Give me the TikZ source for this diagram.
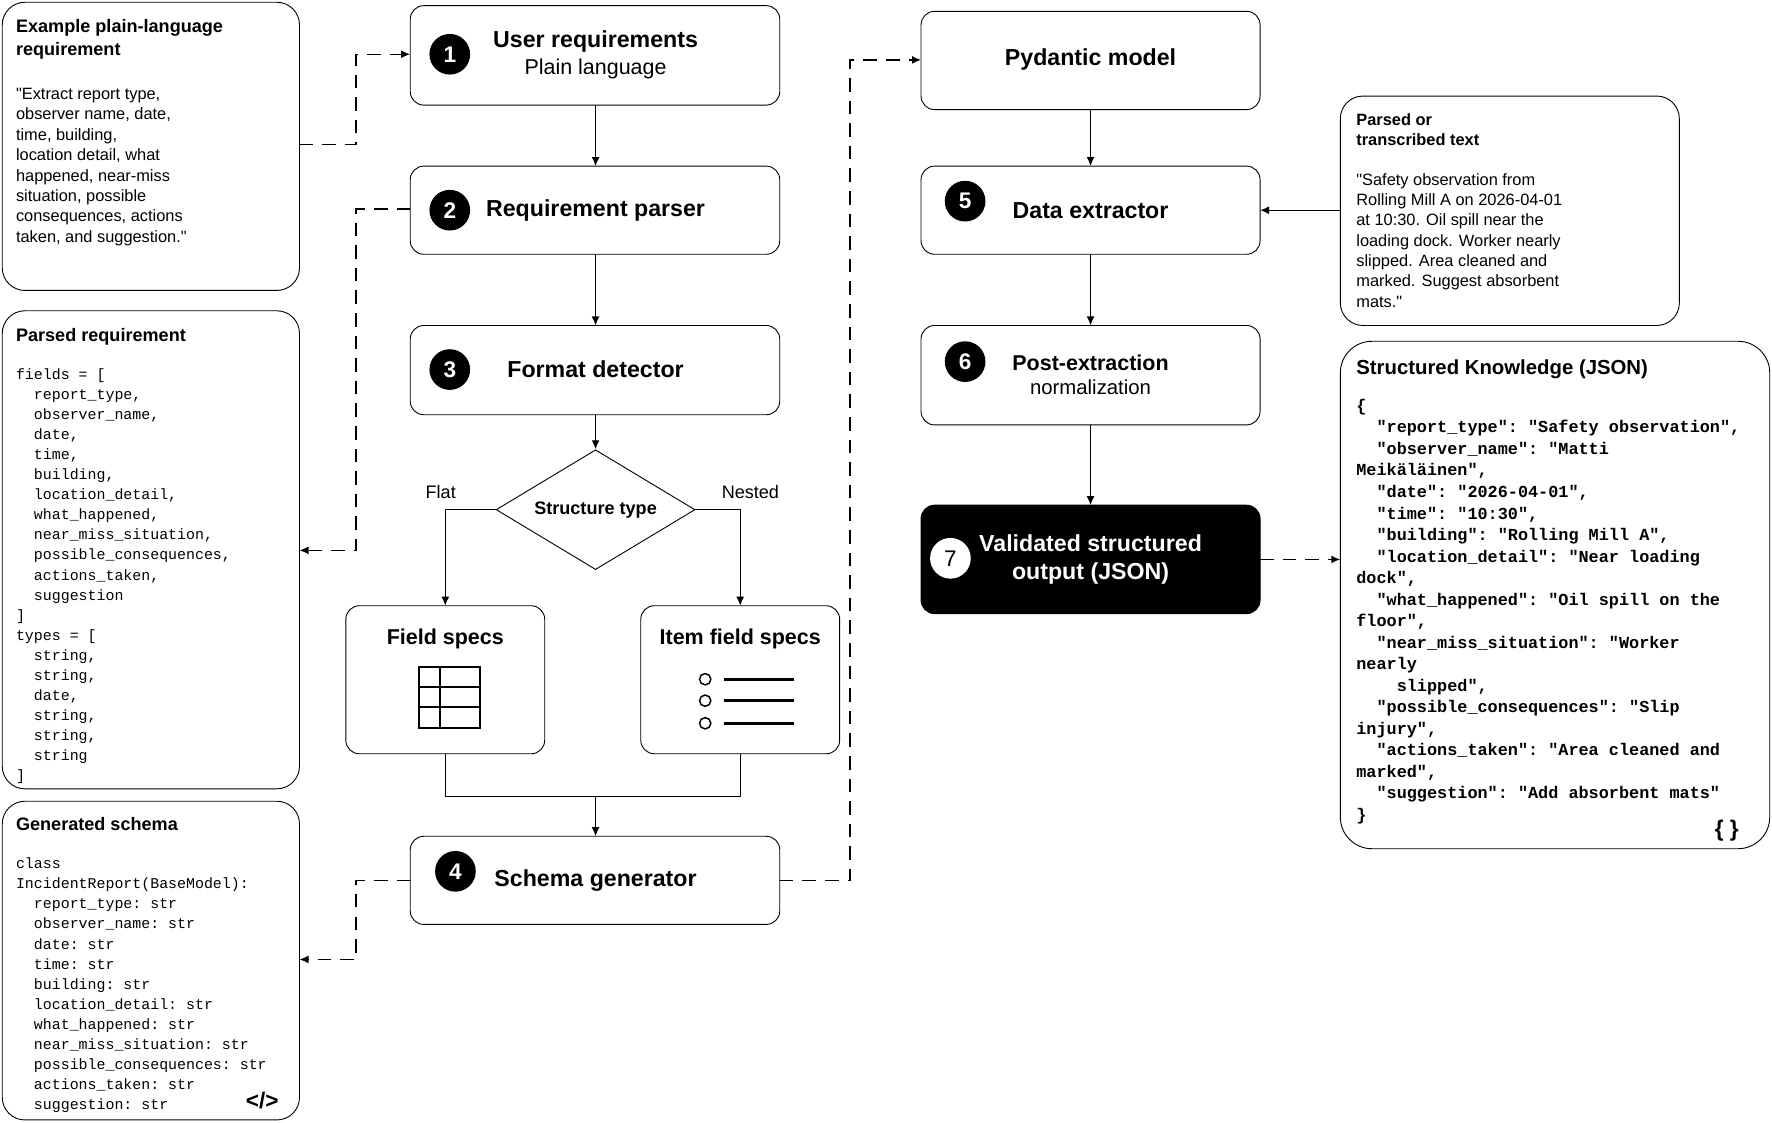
\documentclass[tikz,border=0pt]{standalone}
\usepackage{fontspec}
\setmainfont{Liberation Sans}
\setmonofont{Liberation Mono}
\usetikzlibrary{arrows.meta,shapes.geometric}
\begin{document}
\begin{tikzpicture}[x=1pt,y=-1pt,
  box/.style={draw,rounded corners=12pt,line width=0.8pt},
  sidebox/.style={draw,rounded corners=20pt,line width=0.8pt},
  ttl/.style={font=\fontsize{20.5}{24}\selectfont\bfseries,align=center},
  body/.style={font=\fontsize{14.5}{18}\selectfont,align=left,anchor=north west,inner sep=0},
  hd/.style={font=\fontsize{16}{20}\selectfont\bfseries,align=left,anchor=north west,inner sep=0},
  mono/.style={font=\ttfamily\fontsize{13.2}{17.75}\selectfont,align=left,anchor=north west,inner sep=0},
  jmono/.style={font=\ttfamily\bfseries\fontsize{14.9}{19.05}\selectfont,align=left,anchor=north west,inner sep=0},
  num/.style={circle,fill=black,text=white,minimum size=36pt,inner sep=0,font=\fontsize{20}{24}\selectfont\bfseries},
  arr/.style={-{Latex[length=8pt,width=7pt]},line width=1.2pt},
  darr/.style={-{Latex[length=8pt,width=7pt]},line width=1.2pt,dash pattern=on 12pt off 8pt}]
\useasboundingbox (0,0) rectangle (1568,993);
\def\q{\textquotedbl}
% left boxes
\draw[sidebox] (2,2) rectangle (265,257);
\node[hd] (exh) at (14,17) {Example plain-language\\requirement};
\node[body] (ext) at (14,78) {\q Extract report type,\\observer name, date,\\time, building,\\location detail, what\\happened, near-miss\\situation, possible\\consequences, actions\\taken, and suggestion.\q};
\coordinate (exR) at (265,128);
\draw[sidebox] (2,275) rectangle (265,698);
\node[hd] (prh) at (14,290) {Parsed requirement};
\node[mono] (prt) at (14,326) {fields = [\\\ \ report\_type,\\\ \ observer\_name,\\\ \ date,\\\ \ time,\\\ \ building,\\\ \ location\_detail,\\\ \ what\_happened,\\\ \ near\_miss\_situation,\\\ \ possible\_consequences,\\\ \ actions\_taken,\\\ \ suggestion\\]\\types = [\\\ \ string,\\\ \ string,\\\ \ date,\\\ \ string,\\\ \ string,\\\ \ string\\]};
\coordinate (prR) at (265,487);
\draw[sidebox] (2,709) rectangle (265,991);
\node[hd] (gsh) at (14,723) {Generated schema};
\node[mono] (gst) at (14,759) {class\\IncidentReport(BaseModel):\\\ \ report\_type: str\\\ \ observer\_name: str\\\ \ date: str\\\ \ time: str\\\ \ building: str\\\ \ location\_detail: str\\\ \ what\_happened: str\\\ \ near\_miss\_situation: str\\\ \ possible\_consequences: str\\\ \ actions\_taken: str\\\ \ suggestion: str};
\node[font=\fontsize{20}{24}\selectfont\bfseries] (code) at (232,974) {</>};
\coordinate (gsR) at (265,849);
% middle column
\draw[box] (363,5) rectangle (690,93);
\node[font=\fontsize{20.5}{24}\selectfont\bfseries] (b1t) at (527,37) {User requirements};
\node[font=\fontsize{19}{22}\selectfont] (b1s) at (527,61) {Plain language};
\node[num] (n1) at (398,48) {1};
\draw[box] (363,147) rectangle (690,225);
\node[ttl] (b2t) at (527,186) {Requirement parser};
\node[num] (n2) at (398,186) {2};
\draw[box] (363,288) rectangle (690,367);
\node[ttl] (b3t) at (527,327) {Format detector};
\node[num] (n3) at (398,327) {3};
\node[draw,diamond,aspect=1.66,minimum width=176pt,minimum height=106pt,inner sep=0,line width=0.8pt] (dia) at (527,451) {};
\node[font=\fontsize{16}{20}\selectfont\bfseries] at (527,451) {Structure type};
\node[font=\fontsize{16}{20}\selectfont] (flat) at (390,435) {Flat};
\node[font=\fontsize{16}{20}\selectfont] (nest) at (664,435) {Nested};
\draw[box] (306,536) rectangle (482,667);
\node[font=\fontsize{19}{22}\selectfont\bfseries] (fs) at (394,565) {Field specs};
\draw[line width=1.8pt] (371,590) rectangle (425,644);
\foreach \k in {608,626}{\draw[line width=1.8pt] (\k-237,590)--(\k-237,644); \draw[line width=1.8pt] (371,\k)--(425,\k);}
\draw[box] (567,536) rectangle (743,667);
\node[font=\fontsize{19}{22}\selectfont\bfseries] (ifs) at (655,565) {Item field specs};
\foreach \yy in {601,620,640}{\draw[line width=1.3pt] (624,\yy) circle (5pt); \draw[line width=2.5pt] (641,\yy)--(703,\yy);}
\draw[box] (363,740) rectangle (690,818);
\node[ttl] (b4t) at (527,779) {Schema generator};
\node[num] (n4) at (403,771) {4};
% right column
\draw[box] (815,10) rectangle (1115,97);
\node[ttl] (pyd) at (965,53) {Pydantic model};
\draw[box] (815,147) rectangle (1115,225);
\node[ttl] (b5t) at (965,186) {Data extractor};
\node[num] (n5) at (854,178) {5};
\draw[box] (815,288) rectangle (1115,376);
\node[font=\fontsize{19}{22}\selectfont\bfseries] (b6t) at (965,321) {Post-extraction};
\node[font=\fontsize{18}{22}\selectfont] (b6s) at (965,343) {normalization};
\node[num] (n6) at (854,320) {6};
\draw[box,fill=black] (815,447) rectangle (1115,543);
\node[ttl,text=white,font=\fontsize{20.5}{25}\selectfont\bfseries] (b7t) at (965,495) {Validated structured\\output (JSON)};
\node[circle,fill=white,minimum size=36pt,inner sep=0,font=\fontsize{20}{24}\selectfont] (n7) at (841,494) {7};
\draw[box,rounded corners=20pt] (1186,85) rectangle (1486,288);
\node[font=\fontsize{14.5}{18}\selectfont\bfseries,align=left,anchor=north west,inner sep=0] (pth) at (1200,100) {Parsed or\\transcribed text};
\node[body] (ptt) at (1200,153) {\q Safety observation from\\Rolling Mill A on 2026-04-01\\at 10:30. Oil spill near the\\loading dock. Worker nearly\\slipped. Area cleaned and\\marked. Suggest absorbent\\mats.\q};
\draw[box,rounded corners=28pt] (1186,302) rectangle (1566,751);
\node[font=\fontsize{18}{22}\selectfont\bfseries,anchor=north west,inner sep=0] (jh) at (1200,318) {Structured Knowledge (JSON)};
\node[jmono] (jt) at (1200,353) {\{\\\ \ "report\_type": "Safety observation",\\\ \ "observer\_name": "Matti\\Meikäläinen",\\\ \ "date": "2026-04-01",\\\ \ "time": "10:30",\\\ \ "building": "Rolling Mill A",\\\ \ "location\_detail": "Near loading\\dock",\\\ \ "what\_happened": "Oil spill on the\\floor",\\\ \ "near\_miss\_situation": "Worker\\nearly\\\ \ \ \ slipped",\\\ \ "possible\_consequences": "Slip\\injury",\\\ \ "actions\_taken": "Area cleaned and\\marked",\\\ \ "suggestion": "Add absorbent mats"\\\}};
\node[font=\fontsize{20}{24}\selectfont\bfseries] (brc) at (1528,735) {\{ \}};
% connectors
\coordinate (b1L) at (363,48); \coordinate (b1B) at (527,93);
\coordinate (b2L) at (363,185); \coordinate (b2T) at (527,147); \coordinate (b2B) at (527,225);
\coordinate (b3T) at (527,288); \coordinate (b3B) at (527,367);
\coordinate (fsT) at (394,536); \coordinate (fsB) at (394,667);
\coordinate (ifT) at (655,536); \coordinate (ifB) at (655,667);
\coordinate (b4T) at (527,740); \coordinate (b4L) at (363,779); \coordinate (b4R) at (690,779);
\coordinate (pyL) at (815,53); \coordinate (pyB) at (965,97);
\coordinate (b5T) at (965,147); \coordinate (b5B) at (965,225); \coordinate (b5R) at (1115,186);
\coordinate (b6T) at (965,288); \coordinate (b6B) at (965,376);
\coordinate (b7T) at (965,447); \coordinate (b7R) at (1115,495);
\coordinate (ptL) at (1186,186); \coordinate (jL) at (1186,495);
\coordinate (mrg) at (527,705);
\draw[darr] (exR) -| (315,88) |- (b1L);
\draw[darr] (b2L) -| (315,330) |- (prR);
\draw[darr] (b4L) -| (315,815) |- (gsR);
\draw[darr] (b4R) -| (752,400) |- (pyL);
\draw[darr] (b7R) -- (jL);
\draw[arr] (b1B) -- (b2T);
\draw[arr] (b2B) -- (b3T);
\draw[arr] (b3B) -- (dia.north);
\draw[arr] (dia.west) -| (fsT);
\draw[arr] (dia.east) -| (ifT);
\draw[line width=1.2pt] (fsB) |- (mrg) -| (ifB);
\draw[arr] (mrg) -- (b4T);
\draw[arr] (pyB) -- (b5T);
\draw[arr] (b5B) -- (b6T);
\draw[arr] (b6B) -- (b7T);
\draw[arr] (ptL) -- (b5R);
\end{tikzpicture}
\end{document}
